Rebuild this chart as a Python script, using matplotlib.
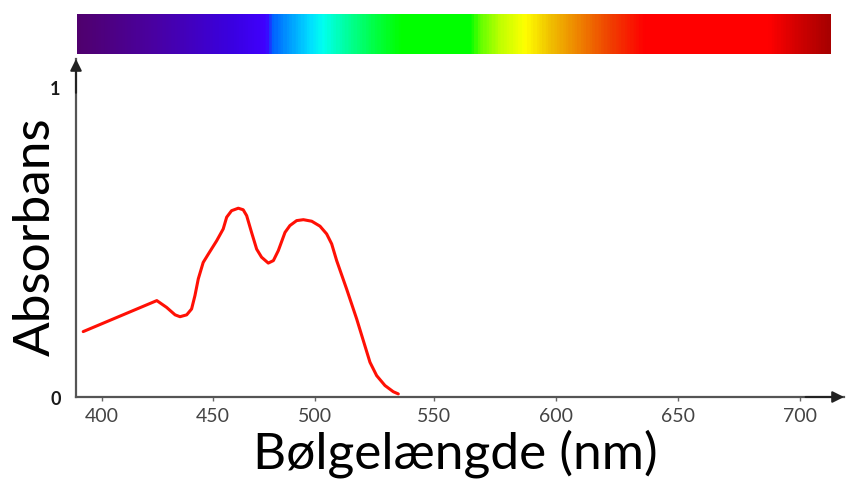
import numpy as np
import matplotlib
matplotlib.use("Agg")
import matplotlib.pyplot as plt
from matplotlib.colors import LinearSegmentedColormap

plt.rcParams["font.family"] = ["Lato", "DejaVu Sans"]

# ── data ─────────────────────────────────────────────────────────────────────
wavelength = [391.8, 424.8, 429.2, 433.0, 435.2, 438.2, 440.4, 441.9, 443.4,
              445.6, 447.9, 451.8, 455.0, 456.7, 459.1, 462.4, 464.8, 466.5,
              468.9, 471.4, 473.8, 477.1, 479.6, 482.0, 485.3, 487.7, 491.0,
              494.3, 498.4, 502.1, 504.9, 507.0, 509.1, 513.3, 517.5, 520.3,
              523.1, 525.9, 529.4, 532.9, 535.0]
absorbance = [0.211, 0.311, 0.289, 0.265, 0.259, 0.265, 0.284, 0.327, 0.381,
              0.434, 0.461, 0.504, 0.542, 0.580, 0.601, 0.609, 0.604, 0.585,
              0.531, 0.477, 0.451, 0.432, 0.440, 0.472, 0.531, 0.553, 0.569,
              0.572, 0.567, 0.551, 0.526, 0.494, 0.440, 0.348, 0.252, 0.182,
              0.112, 0.069, 0.037, 0.017, 0.010]

x_ticks = [400, 450, 500, 550, 600, 650, 700]
y_ticks = [0, 1]

# the hand-drawn axis is not evenly spaced: tick -> position on the axis
tick_pos = [101.5, 213, 315, 434, 556, 678, 800]
nm_knots = [350] + x_ticks + [750]
pos_knots = [101.5 - 50 * 2.23] + tick_pos + [800 + 50 * 2.44]


def fwd(x):
    return np.interp(x, nm_knots, pos_knots)


def inv(p):
    return np.interp(p, pos_knots, nm_knots)


# spectrum colours along the bar
spec_stops = [0.0, 0.097, 0.203, 0.25, 0.258, 0.276, 0.309, 0.325, 0.3625,
              0.396, 0.429, 0.522, 0.535, 0.562, 0.595, 0.628, 0.668, 0.708,
              0.754, 0.92, 0.96, 1.0]
spec_cols = ["#50006e", "#4a00a0", "#3a00e0", "#4000ff", "#0060ff", "#0090ff",
             "#00e0ff", "#00fff0", "#00ff90", "#00ff40", "#00ff00", "#00ff00",
             "#60ff00", "#c0ff00", "#ffff00", "#f0c000", "#ee8000", "#f04000",
             "#ff0000", "#ff0000", "#d00000", "#a80000"]

# ── figure ───────────────────────────────────────────────────────────────────
W, H = 846, 481
fig = plt.figure(figsize=(W / 100, H / 100), dpi=100, facecolor="white")

# spectrum bar
axs = fig.add_axes([77 / W, (H - 55) / H, (830 - 77) / W, 40 / H])
cmap = LinearSegmentedColormap.from_list("spec", list(zip(spec_stops, spec_cols)))
axs.imshow(np.linspace(0, 1, 600)[None, :], aspect="auto", cmap=cmap,
           extent=[0, 1, 0, 1])
axs.set_axis_off()

# main axes
ax = fig.add_axes([76 / W, (H - 398) / H, (844 - 76) / W, (398 - 60) / H])
ax.set_xscale("function", functions=(fwd, inv))
ax.plot(wavelength, absorbance, color="#ff1005", lw=2.2,
        solid_capstyle="round", solid_joinstyle="round")

ax.set_xlim(inv(76), inv(844))
ax.set_ylim(0, (398 - 60) / 310)

ax.set_xticks(x_ticks)
ax.set_xticklabels([str(t) for t in x_ticks])
ax.set_yticks(y_ticks)
ax.set_yticklabels([str(t) for t in y_ticks])
ax.tick_params(axis="x", length=3, width=1, color="#666666", labelsize=14,
               labelcolor="#444444", pad=4)
ax.tick_params(axis="y", length=0, labelsize=13, labelcolor="#1a1a1a", pad=11)
for lab in ax.get_yticklabels():
    lab.set_fontweight("bold")

for s in ["top", "right"]:
    ax.spines[s].set_visible(False)
for s in ["left", "bottom"]:
    ax.spines[s].set_color("#555555")
    ax.spines[s].set_linewidth(1.6)

# arrow heads
ax.annotate("", xy=(0, 1), xytext=(0, 0.9), xycoords="axes fraction",
            arrowprops=dict(arrowstyle="-|>", color="#222222", lw=1.5,
                            mutation_scale=17, shrinkA=0, shrinkB=0))
ax.annotate("", xy=(1, 0), xytext=(0.95, 0), xycoords="axes fraction",
            arrowprops=dict(arrowstyle="-|>", color="#222222", lw=1.5,
                            mutation_scale=17, shrinkA=0, shrinkB=0))

ax.set_xlabel("Bølgelængde (nm)", fontsize=37, color="black")
ax.xaxis.set_label_coords((455 - 76) / 768, -0.094)
ax.set_ylabel("Absorbans", fontsize=37, color="black")
ax.yaxis.set_label_coords(-0.022, (398 - 237) / 338)

fig.savefig("out.png", dpi=100, facecolor="white")
